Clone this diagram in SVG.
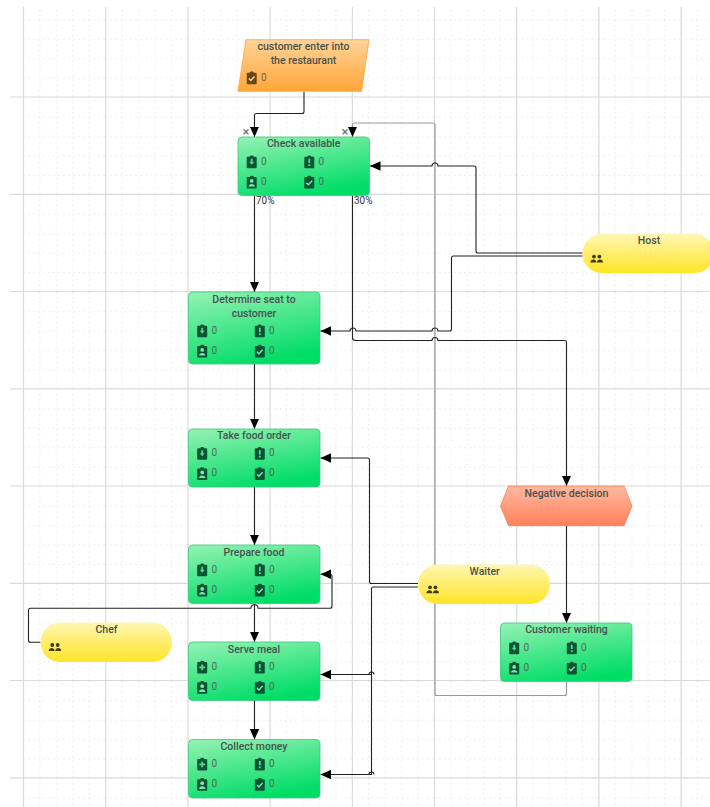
<svg xmlns="http://www.w3.org/2000/svg" width="710" height="807" viewBox="0 0 710 807">
<style>
text{font-family:Roboto,"Liberation Sans",sans-serif}
.t{font-size:10.5px;font-weight:500;fill:#48524e;text-anchor:middle}
.n{font-size:10px;fill:#4d6a5c}
.p{font-size:10px;fill:#333}
.x{font-size:13px;fill:#666}
.grid{stroke:#dadada;stroke-width:1.2;fill:none}
.c{fill:none;stroke:#222;stroke-width:1.1;stroke-linejoin:round}
.a{marker-end:url(#arr)}
.g{stroke:#999;stroke-width:1.2}
.act{fill:url(#gg);stroke:#3cc880;stroke-width:.8}
</style>
<defs>
<linearGradient id="gg" x1=".15" y1="0" x2=".55" y2="1"><stop offset="0" stop-color="#8ef1b0"/><stop offset="1" stop-color="#00dd66"/></linearGradient>
<linearGradient id="go" x1="0" y1="0" x2="0" y2="1"><stop offset="0" stop-color="#ffd498"/><stop offset="1" stop-color="#ffa639"/></linearGradient>
<linearGradient id="gy" x1="0" y1="0" x2="0" y2="1"><stop offset="0" stop-color="#fff6b4"/><stop offset="1" stop-color="#ffe526"/></linearGradient>
<linearGradient id="gr" x1="0" y1="0" x2="0" y2="1"><stop offset="0" stop-color="#ffbaa2"/><stop offset="1" stop-color="#ff8059"/></linearGradient>
<marker id="arr" markerUnits="userSpaceOnUse" markerWidth="12" markerHeight="12" refX="10.500" refY="6" orient="auto"><path d="M0 1.300L10.500 6L0 10.700Z" fill="#000"/></marker>
<pattern id="dots" patternUnits="userSpaceOnUse" x="23.5" y="0.2" width="82.2" height="97.27">
<path d="M16.4 0V97.3M32.9 0V97.3M49.3 0V97.3M65.8 0V97.3M0 19.5H82.2M0 39H82.2M0 58.4H82.2M0 77.8H82.2" stroke="#dedede" stroke-width="1" stroke-dasharray="1 4" fill="none"/>
</pattern>
<path id="clip" d="M-4-5h2c0-1.700 4-1.700 4 0h2q1 0 1 1v9.500q0 1-1 1h-8q-1 0-1-1v-9.500q0-1 1-1z"/>
<g id="i1"><use href="#clip" fill="#0a5436"/><path d="M-.9-3h1.800v3h1.600l-2.500 3l-2.500-3h1.600z" fill="#4fd98f"/></g>
<g id="i1p"><use href="#clip" fill="#0a5436"/><path d="M-.9-2.500h1.800v2h2v1.800h-2v2h-1.800v-2h-2v-1.800h2z" fill="#4fd98f"/></g>
<g id="i2"><use href="#clip" fill="#0a5436"/><path d="M-.9-3h1.800v4.300h-1.800zM-.9 2.500h1.800v1.700h-1.800z" fill="#4fd98f"/></g>
<g id="i3"><use href="#clip" fill="#0a5436"/><circle cy="-1" r="1.900" fill="#7ce8ac"/><path d="M-3.200 4.700c0-3.500 6.400-3.500 6.400 0z" fill="#7ce8ac"/></g>
<g id="i4"><use href="#clip" fill="#0a5436"/><path d="M-2.800 .9l1.900 1.900l3.700-3.900" stroke="#7ce8ac" stroke-width="1.400" fill="none"/></g>
<g id="i4o"><use href="#clip" fill="#6b4615"/><path d="M-2.800 .9l1.900 1.900l3.700-3.900" stroke="#ffdb9c" stroke-width="1.400" fill="none"/></g>
<g id="ppl" fill="#3f3a12"><circle cx="-2.700" cy="-2.700" r="1.900"/><circle cx="2.700" cy="-2.700" r="1.900"/><path d="M-6.300 3.200c0-4 6-4 6 0zM.3 3.200c0-4 6-4 6 0z"/></g>
<g id="ia"><use href="#i1" x="13.700" y="0"/><use href="#i2" x="71.300" y="0"/><use href="#i3" x="13.700" y="20.200"/><use href="#i4" x="71.300" y="20.200"/>
<text class="n" x="23" y="3">0</text><text class="n" x="80.500" y="3">0</text><text class="n" x="23" y="23.200">0</text><text class="n" x="80.500" y="23.200">0</text></g>
<g id="ib"><use href="#i1p" x="13.700" y="0"/><use href="#i2" x="71.300" y="0"/><use href="#i3" x="13.700" y="20.200"/><use href="#i4" x="71.300" y="20.200"/>
<text class="n" x="23" y="3">0</text><text class="n" x="80.500" y="3">0</text><text class="n" x="23" y="23.200">0</text><text class="n" x="80.500" y="23.200">0</text></g>
</defs>
<g id="background">
<rect x="23.500" y="7" width="686.500" height="800" fill="url(#dots)"/>
<path class="grid" d="M23.500 7V807M105.700 7V807M187.900 7V807M270.100 7V807M352.300 7V807M434.500 7V807M516.700 7V807M598.900 7V807M681.100 7V807M10 97H710M10 194.300H710M10 291.500H710M10 388.800H710M10 486H710M10 583.300H710M10 680.500H710M10 777.800H710"/>
</g>
<g id="connectors">
<path class="c a" d="M304 91.500V111.500q0 2-2 2H256.500q-2 0-2 2V137"/>
<path class="c a" d="M254.500 195.500V292"/>
<path class="c a" d="M254.500 364V429"/>
<path class="c a" d="M254.500 487V545"/>
<path class="c a" d="M254.500 603.500V642"/>
<path class="c a" d="M254.500 700.500V739.500"/>
<path class="c a" d="M566.500 526V623"/>
<path class="c a g" d="M566.500 681V693.500q0 2-2 2H437q-2 0-2-2V125q0-2-2-2H354.500q-2 0-2 2V137"/>
<path class="c a" d="M352.500 195.500V337.500q0 3 3 3H432a3 3 0 0 1 6 0H564.500q2 0 2 2V486"/>
<path class="c a" d="M582.500 253H478q-2 0-2-2V168q0-2-2-2H438a3 3 0 0 0-6 0H370"/>
<path class="c a" d="M582.500 256H453.500q-2 0-2 2V329q0 2-2 2H438a3 3 0 0 0-6 0H356a3 3 0 0 0-6 0H320.500"/>
<path class="c a" d="M418 583.500H371.500q-2 0-2-2V460q0-2-2-2H320.500"/>
<path class="c a" d="M418 587H373.500q-2 0-2 2V774.500H320.500"/>
<path class="c a" d="M371.500 674.500H320.500"/>
<path class="c" d="M369 674.500a2.500 2.500 0 0 1 5 0M369 774.500a2.500 2.500 0 0 1 5 0"/>
<path class="c a" d="M40.500 642.300H30.500q-2 0-2-2V610.300q0-2 2-2H251a3.500 3.500 0 0 1 7 0H330q2 0 2-2V576.300q0-2-2-2H320.500"/>
</g>
<g id="node-start">
<path d="M246 39.700H369L361.500 91.300H238Z" fill="url(#go)" stroke="#ffa235" stroke-width=".8"/>
<text class="t" x="303.500" y="50">customer enter into</text>
<text class="t" x="303.500" y="64">the restaurant</text>
<use href="#i4o" x="251.700" y="77.700"/>
<text class="n" x="261" y="80.700" style="fill:#7a6340">0</text>
</g>
<g id="node-check">
<rect class="act" x="238" y="137" width="131.500" height="58.500" rx="4"/>
<text class="t" x="303.700" y="147">Check available</text>
<use href="#ia" x="238" y="161.700"/>
<text class="x" x="242.500" y="136">×</text><text class="x" x="341.500" y="136">×</text>
<text class="p" x="256" y="204">70%</text><text class="p" x="354" y="204">30%</text>
</g>
<g id="node-determine">
<rect class="act" x="188.500" y="292" width="131.500" height="72" rx="4"/>
<text class="t" x="254" y="302.500">Determine seat to</text>
<text class="t" x="254" y="317">customer</text>
<use href="#ia" x="188.500" y="330.700"/>
</g>
<g id="node-take">
<rect class="act" x="188.500" y="429" width="131.500" height="58" rx="4"/>
<text class="t" x="254" y="439">Take food order</text>
<use href="#ia" x="188.500" y="453.200"/>
</g>
<g id="node-prepare">
<rect class="act" x="188.500" y="545" width="131.500" height="58.500" rx="4"/>
<text class="t" x="254" y="555.500">Prepare food</text>
<use href="#ia" x="188.500" y="569.700"/>
</g>
<g id="node-serve">
<rect class="act" x="188.500" y="642" width="131.500" height="58.500" rx="4"/>
<text class="t" x="254" y="652.500">Serve meal</text>
<use href="#ib" x="188.500" y="667"/>
</g>
<g id="node-collect">
<rect class="act" x="188.500" y="739.500" width="131.500" height="58.500" rx="4"/>
<text class="t" x="254" y="749.500">Collect money</text>
<use href="#ib" x="188.500" y="764"/>
</g>
<g id="node-waiting">
<rect class="act" x="500.500" y="623" width="131.500" height="58.500" rx="4"/>
<text class="t" x="566.500" y="633">Customer waiting</text>
<use href="#ia" x="500.500" y="647.700"/>
</g>
<g id="node-negative">
<path d="M508.500 486H624L632 506L624 525.700H508.500L500.500 506Z" fill="url(#gr)" stroke="#ff7a50" stroke-width=".8"/>
<text class="t" x="566.500" y="496.500">Negative decision</text>
</g>
<g id="node-host">
<rect x="582.500" y="234" width="131.500" height="39" rx="19.500" fill="url(#gy)"/>
<text class="t" x="649" y="244">Host</text>
<use href="#ppl" x="596.700" y="259.300"/>
</g>
<g id="node-waiter">
<rect x="418" y="564.500" width="132" height="39.500" rx="19.700" fill="url(#gy)"/>
<text class="t" x="484.700" y="574.500">Waiter</text>
<use href="#ppl" x="432.700" y="590"/>
</g>
<g id="node-chef">
<rect x="40.500" y="622.500" width="131.500" height="39.500" rx="19.700" fill="url(#gy)"/>
<text class="t" x="106.500" y="632.500">Chef</text>
<use href="#ppl" x="55" y="647.700"/>
</g>
</svg>
